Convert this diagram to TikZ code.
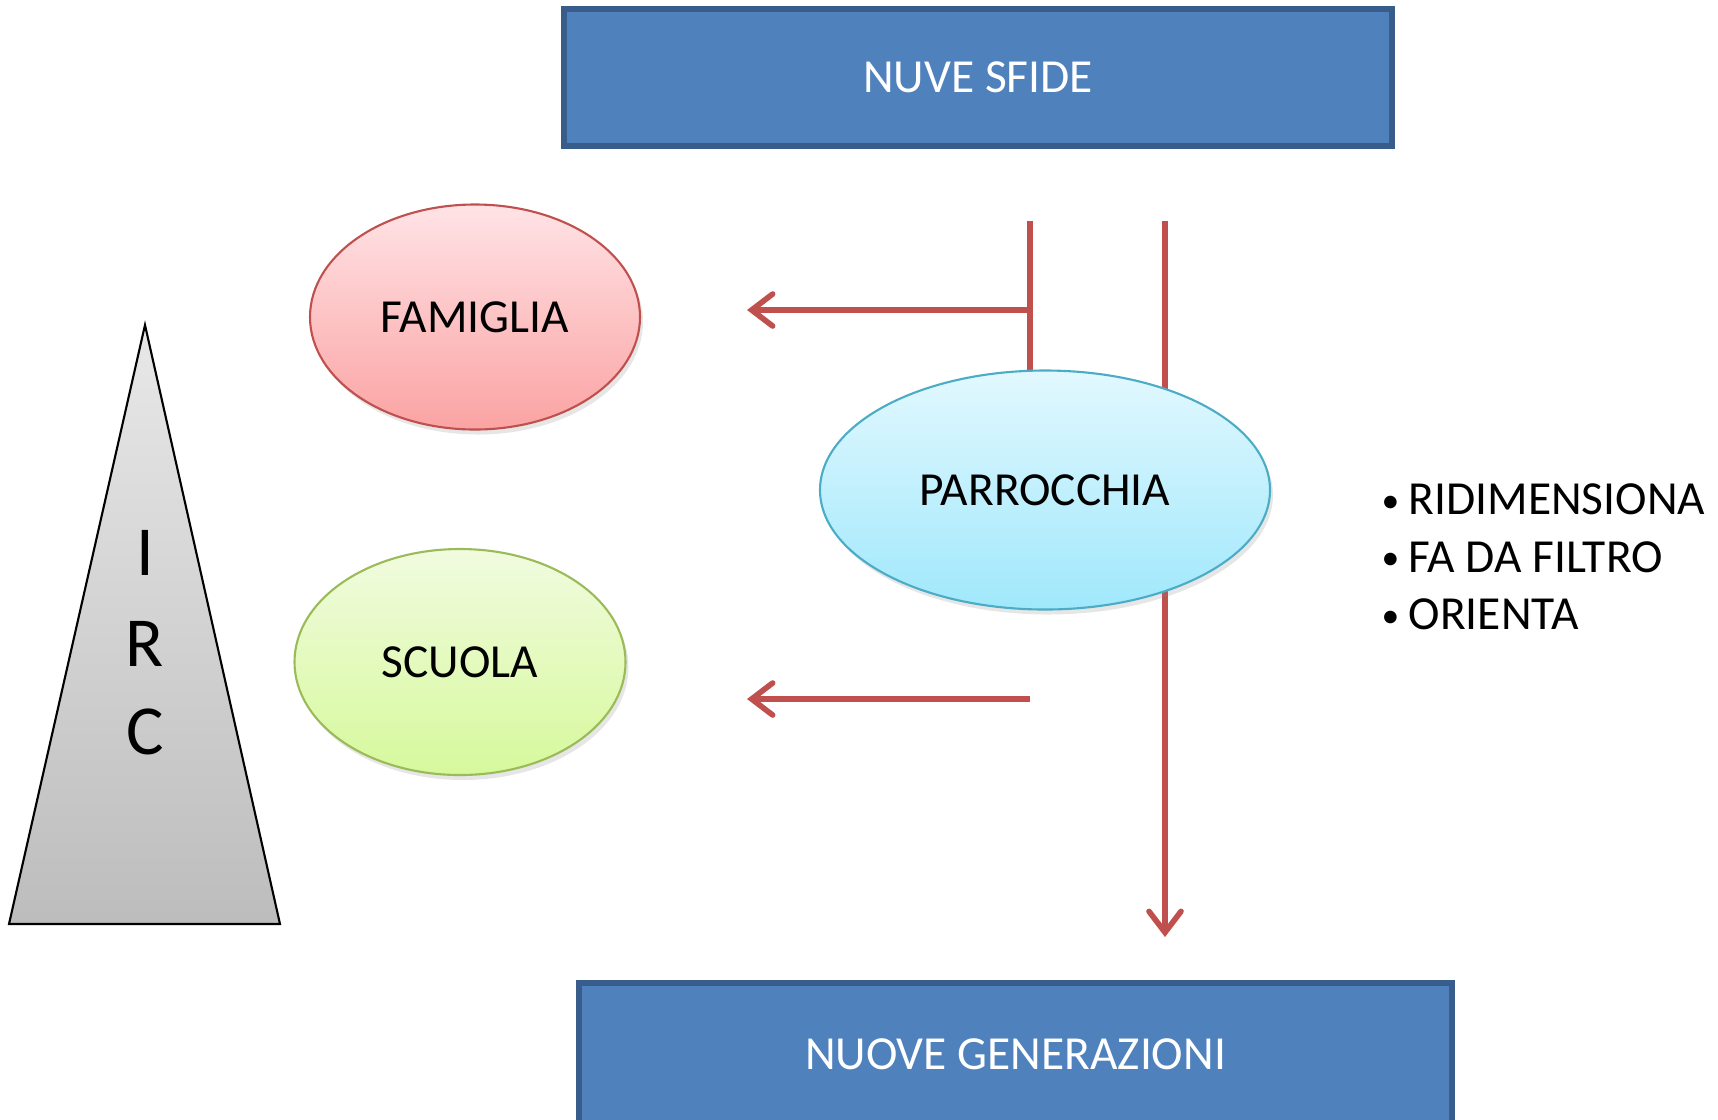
\documentclass[tikz,border=0pt]{standalone}
\usepackage{fontspec}
\setmainfont{Carlito}
\usepackage{tikz}
\usetikzlibrary{
  arrows.meta,
  shapes.geometric,
  shadows
}
\definecolor{boxblue}{HTML}{4F81BD}
\definecolor{boxedge}{HTML}{385D8A}
\definecolor{redline}{HTML}{C0504D}
\definecolor{famtop}{HTML}{FFE3E6}
\definecolor{fambot}{HTML}{FBA3A3}
\definecolor{famedge}{HTML}{C0504D}
\definecolor{scutop}{HTML}{F1FBDF}
\definecolor{scubot}{HTML}{D6F99C}
\definecolor{scuedge}{HTML}{9BBB59}
\definecolor{partop}{HTML}{E2F8FE}
\definecolor{parbot}{HTML}{A0E8FC}
\definecolor{paredge}{HTML}{4BACC6}
\tikzset{
  testo/.style={font=\fontsize{13.5}{16}\selectfont},
  sfida/.style={
    testo,
    draw=boxedge,
    line width=1.5pt,
    fill=boxblue,
    text=white,
    minimum height=1.37cm},
  ente/.style={
    testo,
    ellipse,
    line width=0.6pt,
    drop shadow={opacity=0.2, shadow xshift=0.03, shadow yshift=-0.05}},
  flusso/.style={
    draw=redline,
    line width=1.6pt,
    -{Straight Barb[length=2.1mm, width=3.2mm, line cap=round]}},
  lettera/.style={font=\fontsize{20}{24}\selectfont}
  }
\newcommand{\puntino}{\makebox[0.27cm][l]{\raisebox{0.05em}{\scalebox{0.75}{•}}}}
\begin{document}
\begin{tikzpicture}
		\useasboundingbox (0,0) rectangle (17.18,-11.19);
		\clip (0,0) rectangle (17.18,-11.19);
		% piramide
		\shade [top color=black!9, bottom color=black!26, draw=black, line width=0.6pt]
			(0.09,-9.24) -- (1.45,-3.25) -- (2.80,-9.24) -- cycle;
		\node [lettera] (irci) at (1.45,-5.53) {I};
		\node [lettera] (ircr) at (1.45,-6.44) {R};
		\node [lettera] (ircc) at (1.45,-7.32) {C};
		% riquadri
		\node [sfida, minimum width=8.28cm] (sfide) at (9.78,-0.775) {NUVE SFIDE};
		\node [sfida, minimum width=8.73cm, minimum height=1.42cm]
			(generazioni) at (10.155,-10.54) {NUOVE GENERAZIONI};
		% linee
		\coordinate (atop) at (10.30,-2.21);
		\coordinate (ajoin) at (10.30,-3.10);
		\coordinate (aend) at (10.30,-5.0);
		\coordinate (btop) at (11.65,-2.21);
		\coordinate (bend) at (11.65,-9.37);
		\coordinate (cstart) at (10.30,-6.99);
		\coordinate (famarr) at (7.47,-3.10);
		\coordinate (scuarr) at (7.47,-6.99);
		\draw [flusso, -] (atop) -- (aend);
		\draw [flusso] (ajoin) -- (famarr);
		\draw [flusso] (btop) -- (bend);
		\draw [flusso] (cstart) -- (scuarr);
		% enti
		\node [ente, draw=famedge, top color=famtop, bottom color=fambot,
			minimum width=3.30cm, minimum height=2.25cm] (famiglia) at (4.75,-3.17) {FAMIGLIA};
		\node [ente, draw=scuedge, top color=scutop, bottom color=scubot,
			minimum width=3.31cm, minimum height=2.26cm] (scuola) at (4.60,-6.62) {SCUOLA};
		\node [ente, draw=paredge, top color=partop, bottom color=parbot,
			minimum width=4.50cm, minimum height=2.39cm] (parrocchia) at (10.45,-4.90) {PARROCCHIA};
		% azioni
		\node [testo, anchor=west, align=left, inner sep=0pt, font=\fontsize{13.5}{16.4}\selectfont]
			(azioni) at (13.81,-5.57)
			{\puntino RIDIMENSIONA\\
			 \puntino FA DA FILTRO\\
			 \puntino ORIENTA};
	\end{tikzpicture}
\end{document}
